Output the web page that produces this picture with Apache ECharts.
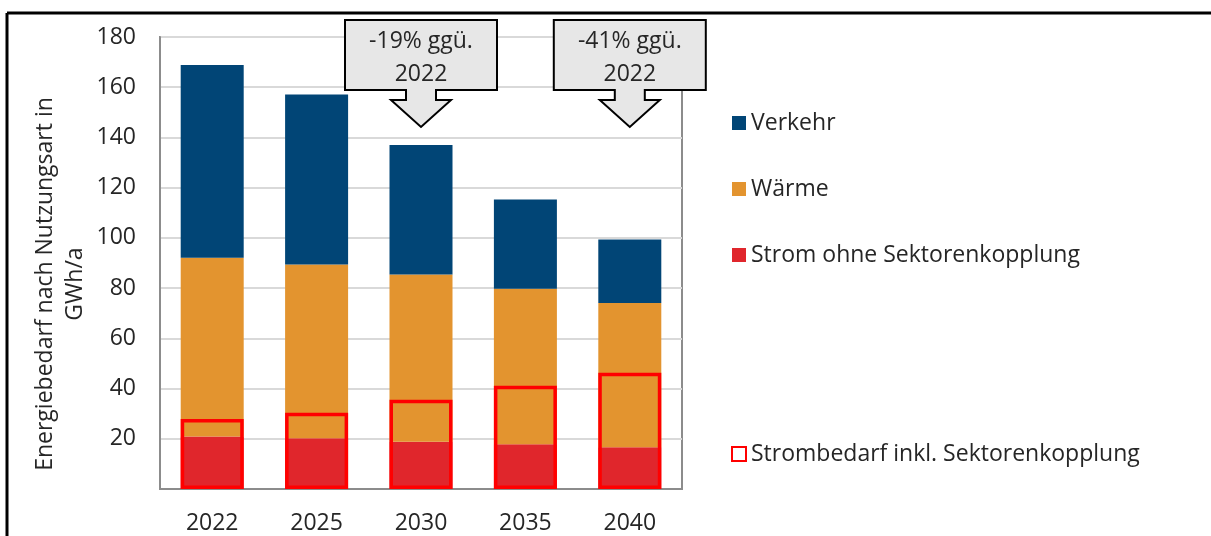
<!DOCTYPE html>
<html>
<head>
<meta charset="utf-8">
<script src="https://cdn.jsdelivr.net/npm/echarts@6/dist/echarts.min.js"></script>
<style>
  html, body { margin: 0; padding: 0; background: #fff; }
  #app { width: 1211px; height: 536px; }
</style>
</head>
<body>
<div id="app"></div>
<script>
const years = ["2022", "2025", "2030", "2035", "2040"];
const strom = [20.9, 20.2, 18.8, 17.8, 16.6];
const waerme = [71.2, 69.2, 66.6, 61.9, 57.5];
const verkehr = [76.7, 67.7, 51.6, 35.6, 25.3];
const stromInkl = [27.9, 30.4, 35.5, 41.1, 46.3];
// callouts: [category, text]
const callouts = [
  ["2030", "-19% ggü.\n2022"],
  ["2040", "-41% ggü.\n2022"]
];

const font = "Open Sans";
const fs = 23;
const textColor = "#262626";

const dom = document.getElementById("app");
const myChart = echarts.init(dom);

myChart.setOption({
  animation: false,
  textStyle: { fontFamily: font },
  grid: {
    left: 160,
    right: 529,
    top: 37,
    bottom: 47,
    show: true,
    borderColor: "#8c8c8c",
    borderWidth: 2
  },
  legend: [
    {
      orient: "vertical",
      left: 727,
      top: 106,
      itemWidth: 14,
      itemHeight: 14,
      itemGap: 42,
      icon: "rect",
      data: ["Verkehr", "Wärme", "Strom ohne Sektorenkopplung"],
      textStyle: { fontFamily: font, fontSize: fs, color: textColor, lineHeight: 24 }
    },
    {
      orient: "vertical",
      left: 726,
      top: 437,
      itemWidth: 14,
      itemHeight: 14,
      icon: "rect",
      data: ["Strombedarf inkl. Sektorenkopplung"],
      textStyle: { fontFamily: font, fontSize: fs, color: textColor, lineHeight: 24 }
    }
  ],
  xAxis: {
    type: "category",
    data: years,
    axisTick: { show: false },
    axisLine: { lineStyle: { color: "#8c8c8c", width: 2 } },
    axisLabel: { fontFamily: font, fontSize: fs, color: textColor, margin: 23 }
  },
  yAxis: {
    type: "value",
    min: 0,
    max: 180,
    interval: 20,
    name: "Energiebedarf nach Nutzungsart in\nGWh/a",
    nameLocation: "middle",
    nameRotate: 90,
    nameGap: 70,
    nameTextStyle: {
      fontFamily: font,
      fontSize: fs,
      color: textColor,
      lineHeight: 30,
      padding: [0, 42, 0, 0]
    },
    axisLine: { show: true, lineStyle: { color: "#8c8c8c", width: 2 } },
    splitLine: { lineStyle: { color: "#d9d9d9", width: 2 } },
    axisLabel: {
      fontFamily: font,
      fontSize: fs,
      color: textColor,
      margin: 24,
      formatter: v => (v === 0 ? "" : v)
    }
  },
  series: [
    {
      name: "Strom ohne Sektorenkopplung",
      type: "bar",
      stack: "total",
      barWidth: 63,
      itemStyle: { color: "#e0262c" },
      data: strom
    },
    {
      name: "Wärme",
      type: "bar",
      stack: "total",
      itemStyle: { color: "#e3942f" },
      data: waerme
    },
    {
      name: "Verkehr",
      type: "bar",
      stack: "total",
      itemStyle: { color: "#014576" },
      data: verkehr
    },
    {
      name: "Strombedarf inkl. Sektorenkopplung",
      type: "bar",
      barGap: "-100%",
      barWidth: 63,
      z: 5,
      itemStyle: { color: "rgba(0,0,0,0)", borderColor: "#ff0000", borderWidth: 3.5 },
      data: stromInkl
    }
  ]
});

// callout boxes with down arrows, anchored to the category centre
const graphics = [
  { type: "line", shape: { x1: 7, y1: 13, x2: 1211, y2: 13 }, style: { stroke: "#000", lineWidth: 3 }, z: 100 },
  { type: "line", shape: { x1: 7, y1: 13, x2: 7, y2: 536 }, style: { stroke: "#000", lineWidth: 3 }, z: 100 }
];
callouts.forEach(([cat, txt]) => {
  const cx = myChart.convertToPixel({ xAxisIndex: 0 }, cat);
  const hw = 76, top = 20, bot = 90;
  graphics.push({
    type: "polygon",
    z: 100,
    shape: {
      points: [
        [cx - hw, top], [cx + hw, top], [cx + hw, bot], [cx + 15, bot], [cx + 15, 100],
        [cx + 30, 100], [cx, 127], [cx - 30, 100], [cx - 15, 100], [cx - 15, bot], [cx - hw, bot]
      ]
    },
    style: { fill: "#e7e7e7", stroke: "#000", lineWidth: 2 }
  });
  graphics.push({
    type: "text",
    z: 101,
    x: cx,
    y: 58,
    style: {
      text: txt,
      fontFamily: font,
      fontSize: fs,
      lineHeight: 33,
      fill: textColor,
      align: "center",
      verticalAlign: "middle"
    }
  });
});
myChart.setOption({ graphic: graphics });
</script>
</body>
</html>
